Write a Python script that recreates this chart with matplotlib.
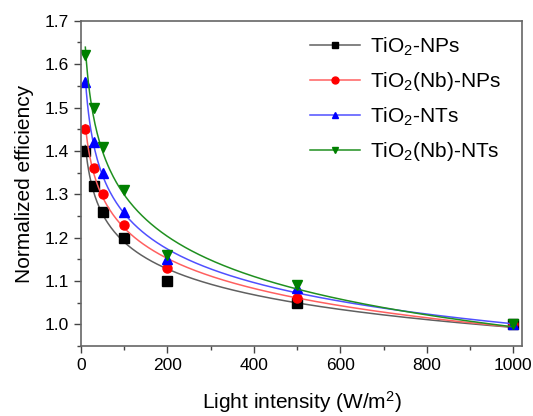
import numpy as np
import matplotlib.pyplot as plt
from matplotlib.ticker import MultipleLocator

plt.rcParams['font.family'] = ['Liberation Sans', 'DejaVu Sans']
plt.rcParams['mathtext.fontset'] = 'custom'
plt.rcParams['mathtext.rm'] = 'Liberation Sans'
plt.rcParams['mathtext.it'] = 'Liberation Sans:italic'

intensity = [10, 30, 50, 100, 200, 500, 1000]
np_tio2 = [1.40, 1.32, 1.26, 1.20, 1.10, 1.05, 1.00]
np_nb = [1.45, 1.36, 1.30, 1.23, 1.13, 1.06, 1.00]
nt_tio2 = [1.56, 1.42, 1.35, 1.26, 1.15, 1.085, 1.00]
nt_nb = [1.62, 1.50, 1.41, 1.31, 1.16, 1.09, 1.00]

labels = ['TiO$_2$-NPs', 'TiO$_2$(Nb)-NPs', 'TiO$_2$-NTs', 'TiO$_2$(Nb)-NTs']
series = [np_tio2, np_nb, nt_tio2, nt_nb]
mcolors = ['black', 'red', 'blue', 'green']
lcolors = ['#606060', '#ff6060', '#5050ff', '#209020']
markers = ['s', 'o', '^', 'v']

fig = plt.figure(figsize=(5.33, 4.16), dpi=100)
ax = fig.add_axes([0.152, 0.168, 0.827, 0.782])

x = np.array(intensity, dtype=float)
xs = np.linspace(x.min(), x.max(), 400)
for y, lab, mc, lc, m in zip(series, labels, mcolors, lcolors, markers):
    # smooth fit in log-log space
    p = np.polyfit(np.log(x), np.log(y), 2)
    ys = np.exp(np.polyval(p, np.log(xs)))
    ax.plot(xs, ys, color=lc, lw=1.1)
    ax.plot(x, y, m, color=mc, ms=6.5, ls='none')
    ax.plot([], [], color=lc, lw=1.1, marker=m, mfc=mc, mec=mc, ms=5, label=lab)

ax.set_xlim(0, 1020)
ax.set_ylim(0.95, 1.7)
ax.xaxis.set_major_locator(MultipleLocator(200))
ax.xaxis.set_minor_locator(MultipleLocator(100))
ax.yaxis.set_major_locator(MultipleLocator(0.1))
ax.yaxis.set_minor_locator(MultipleLocator(0.05))
ax.yaxis.set_major_formatter(plt.FormatStrFormatter('%.1f'))
ax.tick_params(which='both', direction='out', top=False, right=False,
               labelsize=12.5, color='#444444', width=1)
ax.tick_params(which='major', length=5)
ax.tick_params(which='minor', length=3)
for s in ax.spines.values():
    s.set_color('#666666')
    s.set_linewidth(1.2)

ax.set_xlabel('Light intensity (W/m$^2$)', fontsize=15, labelpad=12)
ax.set_ylabel('Normalized efficiency', fontsize=15, labelpad=8)
ax.legend(loc='upper right', frameon=False, fontsize=15, handlelength=2.4,
          labelspacing=0.6, handletextpad=0.5, borderaxespad=0.3,
          bbox_to_anchor=(0.985, 1.0))

fig.savefig('out.png', dpi=100)
